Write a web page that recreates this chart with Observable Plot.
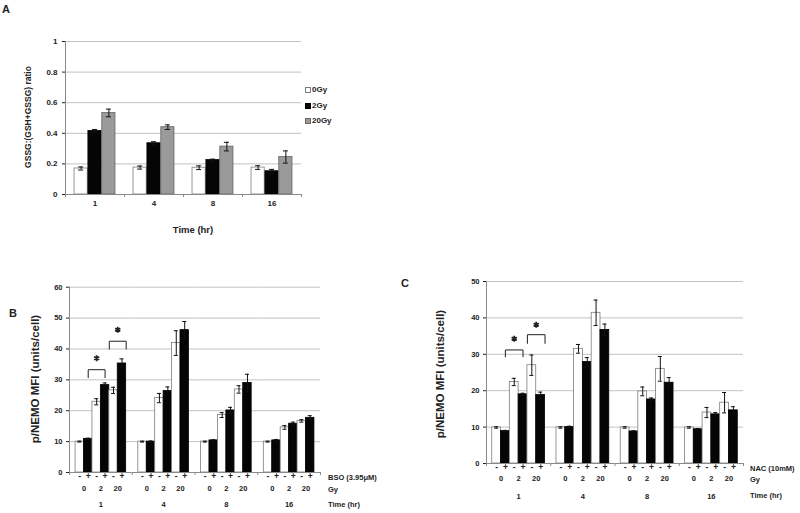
<!DOCTYPE html>
<html><head><meta charset="utf-8">
<script src="https://cdn.jsdelivr.net/npm/d3@7"></script>
<script src="https://cdn.jsdelivr.net/npm/@observablehq/plot@0.6"></script>
<style>
body{margin:0;background:#fff;}
#root{position:relative;width:800px;height:513px;overflow:hidden;background:#fff;font-family:"Liberation Sans",Arial,sans-serif;color:#222;}
.pl{position:absolute;}
.lbl{position:absolute;white-space:nowrap;line-height:1;font-weight:bold;}
</style></head><body>
<div id="root"></div>
<script>
// ---------- Panel A data ----------
const timesA = ["1", "4", "8", "16"];
const dosesA = ["0Gy", "2Gy", "20Gy"];
const ratio0Gy = [0.170, 0.176, 0.175, 0.176];
const ratio0GyErr = [0.010, 0.010, 0.012, 0.012];
const ratio2Gy = [0.415, 0.335, 0.225, 0.152];
const ratio2GyErr = [0.010, 0.010, 0.006, 0.012];
const ratio20Gy = [0.533, 0.440, 0.313, 0.245];
const ratio20GyErr = [0.025, 0.015, 0.028, 0.040];
const yTicksA = [0, 0.2, 0.4, 0.6, 0.8, 1];

// ---------- Panel B data (BSO 3.95 uM) ----------
const timesB = ["1", "4", "8", "16"];
const dosesB = ["0", "2", "20"];
const bsoMinus0Gy = [10.0, 10.0, 10.0, 10.0];
const bsoMinus0GyErr = [0.15, 0.15, 0.15, 0.15];
const bsoPlus0Gy = [10.9, 10.0, 10.4, 10.4];
const bsoPlus0GyErr = [0.2, 0.2, 0.2, 0.3];
const bsoMinus2Gy = [22.9, 24.1, 18.6, 14.6];
const bsoMinus2GyErr = [1.0, 1.5, 0.8, 0.6];
const bsoPlus2Gy = [28.3, 26.4, 20.1, 15.8];
const bsoPlus2GyErr = [0.7, 1.3, 1.0, 0.5];
const bsoMinus20Gy = [26.6, 41.9, 26.9, 16.7];
const bsoMinus20GyErr = [1.0, 4.0, 1.2, 0.4];
const bsoPlus20Gy = [35.3, 46.1, 29.0, 17.7];
const bsoPlus20GyErr = [1.5, 2.8, 2.8, 0.7];
const yTicksB = [0, 10, 20, 30, 40, 50, 60];
const bracketFromB = ["0+", "2+"];
const bracketToB = ["2+", "20+"];
const bracketMidB = ["2-", "20-"];
const bracketTopB = [33.3, 42.5];
const bracketLegB = [30.6, 39.8];
const bracketStarB = [37.0, 46.2];

// ---------- Panel C data (NAC 10 mM) ----------
const timesC = ["1", "4", "8", "16"];
const dosesC = ["0", "2", "20"];
const nacMinus0Gy = [9.9, 9.9, 9.9, 9.9];
const nacMinus0GyErr = [0.2, 0.2, 0.2, 0.2];
const nacPlus0Gy = [8.9, 10.05, 8.8, 9.4];
const nacPlus0GyErr = [0.2, 0.2, 0.2, 0.2];
const nacMinus2Gy = [22.4, 31.5, 19.8, 14.0];
const nacMinus2GyErr = [1.0, 1.2, 1.2, 1.4];
const nacPlus2Gy = [19.0, 27.9, 17.6, 13.5];
const nacPlus2GyErr = [0.3, 1.2, 0.4, 0.5];
const nacMinus20Gy = [27.0, 41.4, 26.0, 16.7];
const nacMinus20GyErr = [2.8, 3.5, 3.4, 2.8];
const nacPlus20Gy = [18.8, 36.7, 22.2, 14.6];
const nacPlus20GyErr = [0.8, 1.6, 1.4, 1.0];
const yTicksC = [0, 10, 20, 30, 40, 50];
const bracketFromC = ["0+", "2+"];
const bracketToC = ["2+", "20+"];
const bracketMidC = ["2-", "20-"];
const bracketTopC = [31.2, 35.4];
const bracketLegC = [29.2, 32.9];
const bracketStarC = [34.3, 38.1];

// ---------- styles ----------
const FONT = '"Liberation Sans", Arial, sans-serif';
const GRID = "#c2c2c2", AXIS = "#8a8a8a", ERR = "#111";
const FILL = {"0Gy": "#ffffff", "2Gy": "#050505", "20Gy": "#9a9a9a", "-": "#ffffff", "+": "#050505"};
const STROKE = {"0Gy": "#7d7d7d", "2Gy": "#000000", "20Gy": "#666666", "-": "#7d7d7d", "+": "#000000"};

const root = document.getElementById("root");
function place(node, left, top) {
  node.classList.add("pl");
  node.style.left = left + "px";
  node.style.top = top + "px";
  root.appendChild(node);
}
function label(text, x, y, size, opts = {}) {
  const d = document.createElement("div");
  d.className = "lbl";
  d.textContent = text;
  d.style.fontSize = size + "px";
  if (opts.weight) d.style.fontWeight = opts.weight;
  d.style.left = x + "px";
  d.style.top = y + "px";
  const tx = opts.align === "center" ? "-50%" : "0";
  d.style.transform = opts.rotate ? "translate(-50%,-50%) rotate(-90deg)" : `translate(${tx},-50%)`;
  root.appendChild(d);
  return d;
}

// ---------- Panel A ----------
(function () {
  const rows = [];
  const series = [[ratio0Gy, ratio0GyErr], [ratio2Gy, ratio2GyErr], [ratio20Gy, ratio20GyErr]];
  timesA.forEach((t, i) => dosesA.forEach((d, j) => rows.push({time: t, dose: d, value: series[j][0][i], err: series[j][1][i]})));
  const width = 320, height = 215, ml = 65, mr = 19, mt = 41, mb = 21;
  const pi = 0.05, po = 0.65;
  const facetW = (width - ml - mr) / timesA.length;
  const step = facetW / (dosesA.length - pi + 2 * po);
  const bw = step * (1 - pi);
  const edge = po * step + bw / 2;
  const yMax = 1;
  const tickLen = 3 * yMax / (height - mt - mb);
  const cap = (bw - 5) / 2;
  const plot = Plot.plot({
    width, height, marginLeft: ml, marginRight: mr, marginTop: mt, marginBottom: mb,
    style: {fontFamily: FONT, fontSize: "8px", fontWeight: "bold", color: "#222", background: "transparent"},
    fx: {domain: timesA, padding: 0, round: false, axis: "bottom", tickSize: 0, tickPadding: 6, label: null},
    x: {domain: dosesA, paddingInner: pi, paddingOuter: po, round: false, axis: null},
    y: {domain: [0, yMax], ticks: yTicksA, tickSize: 3, tickPadding: 5, label: null, tickFormat: d => String(d)},
    color: {type: "identity"},
    marks: [
      Plot.ruleY(yTicksA.filter(d => d > 0), {stroke: GRID}),
      Plot.barY(rows, {fx: "time", x: "dose", y: "value", fill: d => FILL[d.dose], stroke: d => STROKE[d.dose], strokeWidth: 0.8}),
      Plot.ruleX(rows, {fx: "time", x: "dose", y1: d => d.value - d.err, y2: d => d.value + d.err, stroke: ERR}),
      Plot.tickY(rows, {fx: "time", x: "dose", y: d => d.value + d.err, stroke: ERR, insetLeft: cap, insetRight: cap}),
      Plot.tickY(rows, {fx: "time", x: "dose", y: d => d.value - d.err, stroke: ERR, insetLeft: cap, insetRight: cap}),
      Plot.ruleY([0], {stroke: AXIS}),
      Plot.ruleX([timesA[0]], {fx: d => d, x: () => dosesA[0], y1: 0, y2: yMax, dx: -edge, stroke: AXIS}),
      Plot.ruleX(timesA, {fx: d => d, x: () => dosesA[0], y1: 0, y2: -tickLen, dx: -edge, stroke: AXIS}),
      Plot.ruleX([timesA[timesA.length - 1]], {fx: d => d, x: () => dosesA[dosesA.length - 1], y1: 0, y2: -tickLen, dx: edge, stroke: AXIS})
    ]
  });
  place(plot, 0, 0);
  label("A", 2, 9, 11);
  label("GSSG:(GSH+GSSG) ratio", 28, 117, 8.5, {rotate: true});
  label("Time (hr)", 193, 230, 9.5, {align: "center"});
  // legend
  const legY = [90, 105.5, 120.5];
  dosesA.forEach((d, j) => {
    const sw = document.createElement("div");
    sw.style.cssText = `position:absolute;left:305px;top:${legY[j] - 3}px;width:6px;height:6px;box-sizing:border-box;background:${FILL[d]};border:1px solid ${STROKE[d]};`;
    root.appendChild(sw);
    label(d, 312, legY[j], 8);
  });
})();

// ---------- Panels B and C ----------
function mfiPanel(cfg) {
  const {times, doses, series, from, to, mid, top, leg, star, yMax, yTicks, width, height, ml, mr, mt, mb, po, fxPad, signDy, gyDy} = cfg;
  const keys = [];
  doses.forEach(d => { keys.push(d + "-"); keys.push(d + "+"); });
  const rows = [];
  times.forEach((t, i) => series.forEach(s => rows.push({time: t, dose: s.dose, treat: s.treat, key: s.dose + s.treat, sign: s.treat, value: s.values[i], err: s.errs[i]})));
  const gyRows = [];
  times.forEach(t => doses.forEach(d => gyRows.push({time: t, dose: d, key: d + "-"})));
  const brackets = from.map((f, k) => ({time: times[0], from: f, to: to[k], mid: mid[k], top: top[k], leg: leg[k], star: star[k]}));
  const facetW = (width - ml - mr) / times.length;
  const step = facetW / (keys.length + 2 * po);
  const bw = step;
  const edge = po * step + bw / 2;
  const tickLen = 3 * yMax / (height - mt - mb);
  const cap = (bw - 4) / 2;
  const bracketMarks = [];
  brackets.forEach((b, k) => {
    const dx = k === 0 ? 0 : step / 2;
    const bd = [b];
    bracketMarks.push(
      Plot.link(bd, {fx: "time", x1: "from", x2: "to", y1: "top", y2: "top", dx, stroke: "#333", strokeWidth: 1.1}),
      Plot.link(bd, {fx: "time", x1: "from", x2: "from", y1: "top", y2: "leg", dx, stroke: "#333", strokeWidth: 1.1}),
      Plot.link(bd, {fx: "time", x1: "to", x2: "to", y1: "top", y2: "leg", dx, stroke: "#333", strokeWidth: 1.1}),
      Plot.dot(bd, {fx: "time", x: "mid", y: "star", dx, symbol: "asterisk", r: 2.8, stroke: "#222", strokeWidth: 1.7})
    );
  });
  return Plot.plot({
    width, height, marginLeft: ml, marginRight: mr, marginTop: mt, marginBottom: mb,
    style: {fontFamily: FONT, fontSize: "7.5px", fontWeight: "bold", color: "#222", background: "transparent"},
    fx: {domain: times, padding: 0, round: false, axis: "bottom", tickSize: 0, tickPadding: fxPad, label: null},
    x: {domain: keys, padding: 0, paddingOuter: po, round: false, axis: null},
    y: {domain: [0, yMax], ticks: yTicks, tickSize: 3, tickPadding: 4, label: null},
    color: {type: "identity"},
    marks: [
      Plot.ruleY(yTicks.filter(d => d > 0), {stroke: GRID}),
      Plot.barY(rows, {fx: "time", x: "key", y: "value", fill: d => FILL[d.treat], stroke: d => STROKE[d.treat], strokeWidth: 0.8}),
      Plot.ruleX(rows, {fx: "time", x: "key", y1: d => d.value - d.err, y2: d => d.value + d.err, stroke: ERR}),
      Plot.tickY(rows, {fx: "time", x: "key", y: d => d.value + d.err, stroke: ERR, insetLeft: cap, insetRight: cap}),
      Plot.tickY(rows, {fx: "time", x: "key", y: d => d.value - d.err, stroke: ERR, insetLeft: cap, insetRight: cap}),
      Plot.ruleY([0], {stroke: AXIS}),
      Plot.ruleX([times[0]], {fx: d => d, x: () => keys[0], y1: 0, y2: yMax, dx: -edge, stroke: AXIS}),
      Plot.ruleX(times, {fx: d => d, x: () => keys[0], y1: 0, y2: -tickLen, dx: -edge, stroke: AXIS}),
      Plot.ruleX([times[times.length - 1]], {fx: d => d, x: () => keys[keys.length - 1], y1: 0, y2: -tickLen, dx: edge, stroke: AXIS}),
      Plot.text(rows, {fx: "time", x: "key", text: "sign", frameAnchor: "bottom", dy: signDy, fontSize: 8.5, fontWeight: "bold"}),
      Plot.text(gyRows, {fx: "time", x: "key", text: "dose", frameAnchor: "bottom", dx: step / 2, dy: gyDy, fontSize: 7.5, fontWeight: "bold"}),
      ...bracketMarks
    ]
  });
}

const seriesB = [
  {dose: "0", treat: "-", values: bsoMinus0Gy, errs: bsoMinus0GyErr},
  {dose: "0", treat: "+", values: bsoPlus0Gy, errs: bsoPlus0GyErr},
  {dose: "2", treat: "-", values: bsoMinus2Gy, errs: bsoMinus2GyErr},
  {dose: "2", treat: "+", values: bsoPlus2Gy, errs: bsoPlus2GyErr},
  {dose: "20", treat: "-", values: bsoMinus20Gy, errs: bsoMinus20GyErr},
  {dose: "20", treat: "+", values: bsoPlus20Gy, errs: bsoPlus20GyErr}
];
const plotB = mfiPanel({
  times: timesB, doses: dosesB, series: seriesB,
  from: bracketFromB, to: bracketToB, mid: bracketMidB, top: bracketTopB, leg: bracketLegB, star: bracketStarB,
  yMax: 60, yTicks: yTicksB,
  width: 330, height: 253, ml: 69, mr: 10, mt: 26.7, mb: 41, po: 0.72, fxPad: 29, signDy: 6, gyDy: 18
});
place(plotB, 0, 260);
label("B", 9, 313, 11);
label("p/NEMO MFI (units/cell)", 36, 379, 11.5, {rotate: true});
label("BSO (3.95\u03bcM)", 328, 478, 7.5);
label("Gy", 328, 490, 7.5);
label("Time (hr)", 328, 505, 7.5);

const seriesC = [
  {dose: "0", treat: "-", values: nacMinus0Gy, errs: nacMinus0GyErr},
  {dose: "0", treat: "+", values: nacPlus0Gy, errs: nacPlus0GyErr},
  {dose: "2", treat: "-", values: nacMinus2Gy, errs: nacMinus2GyErr},
  {dose: "2", treat: "+", values: nacPlus2Gy, errs: nacPlus2GyErr},
  {dose: "20", treat: "-", values: nacMinus20Gy, errs: nacMinus20GyErr},
  {dose: "20", treat: "+", values: nacPlus20Gy, errs: nacPlus20GyErr}
];
const plotC = mfiPanel({
  times: timesC, doses: dosesC, series: seriesC,
  from: bracketFromC, to: bracketToC, mid: bracketMidC, top: bracketTopC, leg: bracketLegC, star: bracketStarC,
  yMax: 50, yTicks: yTicksC,
  width: 353, height: 253, ml: 86, mr: 10, mt: 21, mb: 50, po: 0.65, fxPad: 30, signDy: 6.5, gyDy: 17.5
});
place(plotC, 400, 260);
label("C", 401, 283, 11);
label("p/NEMO MFI (units/cell)", 441, 374, 11.5, {rotate: true});
label("NAC (10mM)", 750, 469, 7.5);
label("Gy", 750, 480, 7.5);
label("Time (hr)", 750, 496, 7.5);
</script>
</body></html>
